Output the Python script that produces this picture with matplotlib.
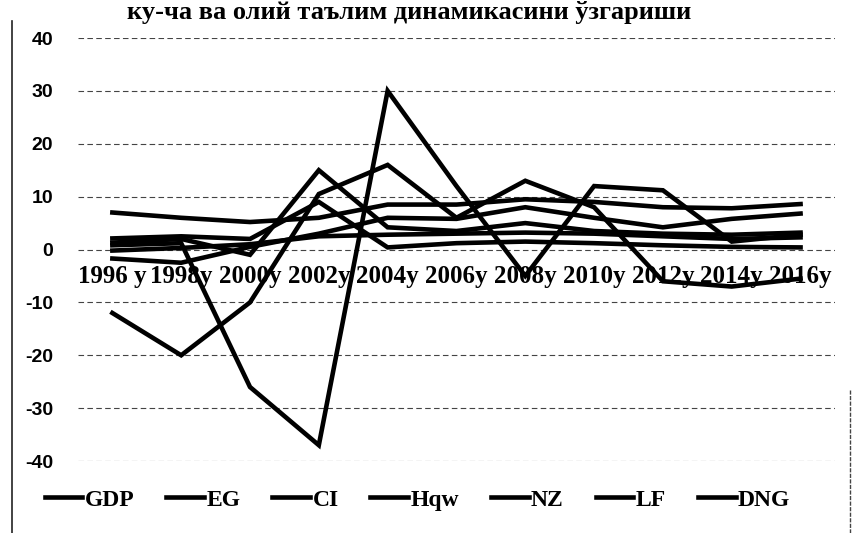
import matplotlib.pyplot as plt
from matplotlib.lines import Line2D
import numpy as np

plt.rcParams["axes.unicode_minus"] = False

# --------------------
# DATA
# --------------------
years = ["1996 y", "1998y", "2000y", "2002y", "2004y", "2006y",
         "2008y", "2010y", "2012y", "2014y", "2016y"]

gdp = [7.0, 6.0, 5.2, 6.0, 8.5, 8.5, 9.5, 9.0, 8.0, 7.8, 8.6]
eg = [-1.7, -2.5, 0.5, 3.0, 6.0, 5.8, 8.0, 6.0, 4.2, 5.8, 6.8]
ci = [-0.2, 0.3, 1.0, 2.5, 2.8, 3.0, 3.2, 3.0, 2.5, 2.0, 2.3]
hqw = [1.3, 2.0, -1.0, 15.0, 4.2, 3.5, 5.0, 3.5, 3.0, 2.8, 3.2]
nz = [2.1, 2.5, 2.0, 9.0, 0.4, 1.2, 1.5, 1.2, 0.8, 0.5, 0.4]
lf = [0.8, 1.2, -26.0, -37.0, 30.0, 12.0, -5.0, 12.0, 11.2, 1.5, 2.8]
dng = [-12.0, -20.0, -10.0, 10.5, 16.0, 6.0, 13.0, 8.0, -6.0, -7.0, -5.5]

series = [("GDP", gdp), ("EG", eg), ("CI", ci), ("Hqw", hqw),
          ("NZ", nz), ("LF", lf), ("DNG", dng)]

title = "ку-ча ва олий таълим динамикасини ўзгариши"

# --------------------
# FIGURE
# --------------------
fig = plt.figure(figsize=(8.52, 5.33), dpi=100)
ax = fig.add_axes([0.0915, 0.135, 0.8885, 0.7937])

x = np.arange(len(years))
for name, vals in series:
    ax.plot(x, vals, color="black", lw=3.3, label=name,
            solid_joinstyle="miter", zorder=3)

ax.set_xlim(-0.5, len(years) - 0.5)
ax.set_ylim(-40, 40)
ax.set_yticks(np.arange(-40, 41, 10))
ax.grid(axis="y", color="#444444", lw=0.8, linestyle=(0, (5, 3)), zorder=0)

for s in ["top", "right", "left"]:
    ax.spines[s].set_visible(False)
ax.spines["bottom"].set_position(("data", 0))
ax.spines["bottom"].set_visible(False)

ax.set_xticks(x)
ax.set_xticklabels(years, fontsize=18, fontweight="bold",
                   family="Liberation Serif")
ax.tick_params(axis="x", length=0, pad=11)
ax.tick_params(axis="y", length=0, pad=18, labelsize=14)
for lab in ax.get_yticklabels():
    lab.set_fontweight("bold")
    lab.set_family("Liberation Sans")

# legend along the bottom
fig.legend(loc="center", bbox_to_anchor=(0.49, 0.062), ncol=7,
           frameon=False, handlelength=1.6, handletextpad=0.1,
           columnspacing=1.35,
           prop={"family": "Liberation Serif", "weight": "bold", "size": 17})

# title at the very top of the scan
fig.text(0.48, 0.998, title, ha="center", va="top",
         fontsize=19, fontweight="bold", family="Liberation Serif")

# frame edges from the scan
fig.add_artist(Line2D([12 / 852, 12 / 852], [0, 0.96], color="#222222",
                      lw=1.2, transform=fig.transFigure))
fig.add_artist(Line2D([850 / 852, 850 / 852], [0, 1 - 390 / 533],
                      color="#444444", lw=1.0, linestyle=(0, (3, 1)),
                      transform=fig.transFigure))

fig.savefig("out.png", dpi=100)
